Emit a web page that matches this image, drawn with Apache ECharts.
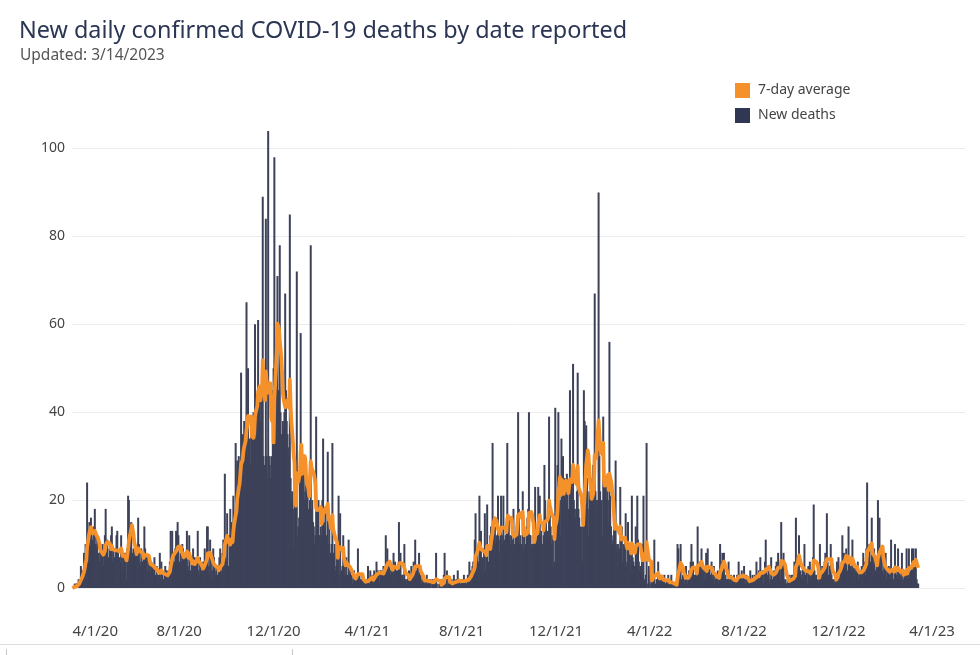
<!DOCTYPE html>
<html>
<head>
<meta charset="utf-8">
<script src="https://cdn.jsdelivr.net/npm/echarts@6/dist/echarts.min.js"></script>
<style>
html,body{margin:0;padding:0;background:#ffffff;}
#chart{width:980px;height:655px;}
</style>
</head>
<body>
<div id="chart"></div>
<script>
// ---- text ----
const chartTitle = 'New daily confirmed COVID-19 deaths by date reported';
const chartSubtitle = 'Updated: 3/14/2023';
const seriesNames = ['7-day average', 'New deaths'];

// ---- axis ----
const firstDayUTC = [2020, 2, 16];       // 3/16/2020, first day of the axis and of the data
const axisDayCount = 1154;               // axis runs on to mid-May 2023
const tickLabels = ['4/1/20', '8/1/20', '12/1/20', '4/1/21', '8/1/21', '12/1/21', '4/1/22', '8/1/22', '12/1/22', '4/1/23'];
const yTicks = { min: 0, max: 100, step: 20 };

// ---- daily new deaths, one row per week, starting 3/16/2020 ----
const deathsMar2020toMar2021 = [
  0,0,0,1,0,1,1,  1,2,1,2,5,3,4,  3,8,7,10,9,24,11,  12,15,10,16,12,11,10,
  14,18,10,9,12,7,8,  6,9,8,7,10,5,8,  12,18,9,11,7,6,9,  8,12,14,6,9,7,4,
  9,12,13,8,5,7,6,  12,9,4,7,6,8,8,  2,9,21,20,14,13,15,  8,6,9,7,10,6,8,
  7,16,10,6,5,9,4,  6,8,14,9,5,7,4,  7,5,6,4,6,3,5,  4,7,3,2,5,3,1,
  3,8,2,6,3,1,2,  3,5,2,4,3,2,4,  6,13,5,13,8,4,6,  9,13,7,15,12,6,5,
  8,6,10,9,5,7,8,  6,13,5,4,12,4,3,  6,5,9,4,7,5,6,  4,13,4,3,7,2,4,
  5,6,3,9,4,5,14,  14,5,3,11,6,2,4,  9,7,4,3,5,2,3,  4,7,9,4,3,8,11,
  8,26,7,6,17,4,5,  12,18,15,9,10,21,16,  12,33,21,29,18,30,22,  28,49,22,35,31,38,27,
  33,65,30,50,30,34,28,  36,33,38,40,38,60,36,  40,38,61,42,44,38,45,  44,89,30,28,25,84,30,
  25,104,30,28,25,30,24,  45,50,98,52,50,55,71,  45,42,78,40,35,32,38,  36,40,67,45,38,35,30,
  32,85,25,20,22,18,9,  22,20,20,72,12,14,16,  26,58,30,26,22,28,20,  22,28,20,22,18,16,20,
  78,18,20,15,14,10,12,  39,14,18,20,12,12,14,  12,20,34,15,14,18,10,  12,31,10,16,8,8,10,
  33,8,6,10,4,5,7,  8,21,3,17,2,4,5,  12,5,5,3,7,2,3,  11,3,4,2,3,1,2
];
const deathsMar2021toMar2022 = [
  4,1,2,3,1,9,2,  3,2,1,2,3,1,2,  0,1,2,0,5,1,1,  4,1,2,3,1,4,2,
  3,6,2,4,3,1,4,  4,3,3,5,2,3,12,  4,9,3,5,6,3,4,  5,3,8,4,6,3,4,
  4,3,15,4,8,2,3,  3,2,10,1,2,1,2,  3,4,1,2,5,3,4,  6,3,11,4,2,5,3,
  8,2,3,1,2,1,2,  1,2,1,3,1,1,2,  1,2,0,1,2,1,1,  1,8,1,0,0,1,0,
  1,2,0,1,3,8,1,  1,4,0,1,2,1,0,  2,1,1,3,1,1,2,  1,4,1,2,1,0,2,
  1,2,3,1,2,1,1,  3,2,6,1,4,3,5,  6,4,11,17,5,8,4,  6,21,5,13,4,7,3,
  9,17,4,8,19,3,6,  10,12,14,11,33,15,12,  14,10,12,10,21,11,8,  13,21,12,10,21,9,11,
  12,14,33,15,16,12,10,  12,10,11,18,9,10,13,  14,12,40,18,10,12,9,  10,22,9,12,10,9,14,
  16,18,40,12,12,9,10,  8,12,10,23,10,11,13,  23,15,21,12,13,10,9,  12,28,20,16,12,13,11,
  39,20,14,10,12,11,5,  6,41,18,16,28,40,14,  20,12,34,24,30,16,25,  20,22,26,24,18,18,45,
  20,24,20,51,20,18,16,  18,22,49,18,16,14,12,  14,6,20,45,38,36,37,  25,18,12,22,20,25,20,
  22,28,30,67,22,18,20,  20,90,30,22,18,20,12,  39,30,22,24,20,25,20,  15,56,21,14,12,10,11,
  14,12,29,9,10,10,8,  9,23,8,14,6,10,8,  11,17,5,6,15,8,9,  4,8,21,7,6,5,5
];
const deathsMar2022toMar2023 = [
  14,8,21,11,6,4,5,  5,10,3,21,2,1,3,  33,0,1,5,1,0,2,  3,1,2,11,1,0,2,
  2,6,1,3,2,1,3,  1,2,3,1,1,2,1,  3,0,1,1,3,0,1,  0,1,0,1,2,10,9,
  5,3,10,2,1,3,2,  1,2,5,3,1,2,4,  3,6,10,2,6,2,3,  3,5,2,14,4,3,6,
  4,9,2,5,3,4,2,  8,3,9,4,5,2,3,  6,2,3,5,1,2,3,  2,4,1,3,10,4,6,
  8,3,8,2,3,1,2,  2,6,1,2,3,1,2,  1,3,2,1,2,3,1,  6,2,3,1,4,2,2,
  5,2,1,3,1,2,1,  1,4,2,1,3,2,1,  3,2,6,1,2,4,2,  7,3,2,4,1,3,6,
  11,4,2,3,5,1,2,  7,1,2,3,4,2,5,  6,4,8,3,5,2,15,  5,4,8,1,2,1,1,
  2,1,3,2,1,3,1,  3,2,6,3,16,4,5,  6,12,3,4,2,3,5,  2,10,3,2,4,1,5,
  3,6,2,4,3,7,19,  4,2,3,1,2,1,3,  10,3,2,5,4,2,6,  8,4,17,6,3,2,5,
  10,3,2,1,2,1,2,  2,6,3,7,4,3,5,  6,12,4,8,5,7,9,  3,4,14,6,3,5,4,
  11,3,6,2,4,5,3,  6,2,3,4,2,5,3,  8,4,6,3,9,24,5,  7,10,6,3,16,8,5,
  9,3,4,5,2,20,6,  16,5,8,7,4,3,6,  3,8,2,4,1,5,3,  2,11,3,4,2,1,10,
  5,3,2,9,1,4,2,  3,8,1,2,4,3,2,  9,2,3,9,2,4,3,  9,5,9,4,6,9,2,
  1,1
];

const newDeaths = deathsMar2020toMar2021.concat(deathsMar2021toMar2022, deathsMar2022toMar2023);

// ---- categories (one per day) ----
const dayMs = 86400000;
const base = Date.UTC(firstDayUTC[0], firstDayUTC[1], firstDayUTC[2]);
const dates = [];
for (let i = 0; i < axisDayCount; i++) {
  const d = new Date(base + i * dayMs);
  dates.push((d.getUTCMonth() + 1) + '/' + d.getUTCDate() + '/' + String(d.getUTCFullYear()).slice(2));
}

const barData = dates.map((_, i) => (i < newDeaths.length ? newDeaths[i] : null));
// trailing 7-day mean of the daily values
const avgData = dates.map((_, i) => {
  if (i >= newDeaths.length) return null;
  let s = 0, n = 0;
  for (let j = Math.max(0, i - 6); j <= i; j++) { s += newDeaths[j]; n++; }
  return +(s / n).toFixed(2);
});

const FONT = 'Noto Sans';
const ORANGE = '#f5912a';
const NAVY = '#3d4259';

const chart = echarts.init(document.getElementById('chart'), null, { renderer: 'canvas' });
chart.setOption({
  animation: false,
  backgroundColor: '#ffffff',
  textStyle: { fontFamily: FONT },
  title: [
    { text: chartTitle, left: 19, top: 20, padding: 0,
      textStyle: { fontFamily: FONT, fontSize: 23.4, fontWeight: 'normal', color: '#2b3654' } },
    { text: chartSubtitle, left: 20, top: 48, padding: 0,
      textStyle: { fontFamily: FONT, fontSize: 15.5, fontWeight: 'normal', color: '#555555' } }
  ],
  legend: {
    orient: 'vertical', left: 735, top: 83, padding: 0,
    itemWidth: 15, itemHeight: 15, itemGap: 10, icon: 'rect',
    data: [
      { name: seriesNames[0], itemStyle: { color: ORANGE } },
      { name: seriesNames[1], itemStyle: { color: '#2f3752' } }
    ],
    textStyle: { fontFamily: FONT, fontSize: 14, color: '#444444', padding: [0, 0, 0, 3] }
  },
  grid: { left: 72, right: 15, top: 148.5, bottom: 67, containLabel: false },
  xAxis: {
    type: 'category', data: dates, boundaryGap: true,
    axisLine: { show: false }, axisTick: { show: false }, splitLine: { show: false },
    axisLabel: {
      interval: (idx, value) => tickLabels.indexOf(value) >= 0,
      formatter: (value) => (value === tickLabels[0] ? '{first|' + value + '}' : value),
      margin: 36, fontFamily: FONT, fontSize: 15, color: '#444444',
      rich: { first: { fontFamily: FONT, fontSize: 15, color: '#444444', padding: [0, 0, 0, 21] } }
    }
  },
  yAxis: {
    type: 'value', min: yTicks.min, max: yTicks.max, interval: yTicks.step,
    axisLine: { show: false }, axisTick: { show: false },
    axisLabel: { margin: 7, fontFamily: FONT, fontSize: 14, color: '#444444' },
    splitLine: { lineStyle: { color: '#ececec', width: 1 } }
  },
  series: [
    {
      name: seriesNames[1], type: 'bar', data: barData,
      barWidth: 2, clip: false, z: 2,
      itemStyle: { color: NAVY },
      emphasis: { disabled: true }
    },
    {
      name: seriesNames[0], type: 'line', data: avgData,
      symbol: 'none', showSymbol: false, z: 3, connectNulls: false,
      lineStyle: { color: ORANGE, width: 3.8, join: 'round' },
      itemStyle: { color: ORANGE },
      emphasis: { disabled: true }
    }
  ],
  graphic: [
    { type: 'line', shape: { x1: 0, y1: 644.5, x2: 980, y2: 644.5 }, style: { stroke: '#dedede', lineWidth: 1 }, silent: true },
    { type: 'line', shape: { x1: 6.5, y1: 649, x2: 6.5, y2: 655 }, style: { stroke: '#c8c8c8', lineWidth: 1 }, silent: true },
    { type: 'line', shape: { x1: 292.5, y1: 649, x2: 292.5, y2: 655 }, style: { stroke: '#c8c8c8', lineWidth: 1 }, silent: true }
  ]
});
</script>
</body>
</html>
